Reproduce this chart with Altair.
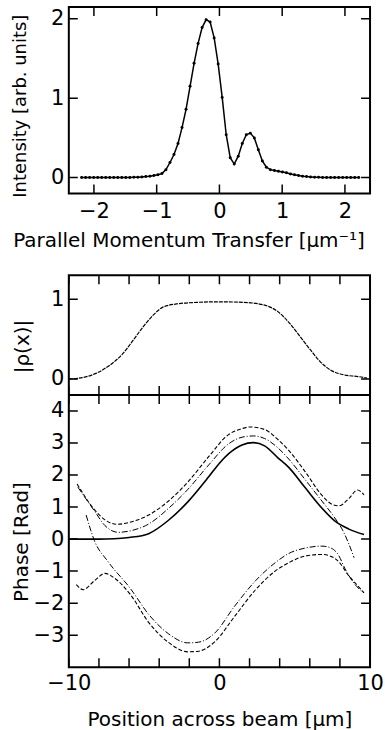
import altair as alt
import pandas as pd

# ---------------- top panel: intensity vs parallel momentum transfer ----------------
q_vals = [-2.196, -2.132, -2.068, -2.004, -1.940, -1.876, -1.812, -1.748, -1.684, -1.620,
          -1.556, -1.492, -1.428, -1.364, -1.300, -1.236, -1.172, -1.108, -1.044, -0.980,
          -0.916, -0.852, -0.788, -0.724, -0.660, -0.596, -0.532, -0.468, -0.404, -0.340,
          -0.276, -0.212, -0.148, -0.084, -0.020, 0.044, 0.108, 0.172, 0.236, 0.300,
          0.364, 0.428, 0.492, 0.556, 0.620, 0.684, 0.748, 0.812, 0.876, 0.940,
          1.004, 1.068, 1.132, 1.196, 1.260, 1.324, 1.388, 1.452, 1.516, 1.580,
          1.644, 1.708, 1.772, 1.836, 1.900, 1.964, 2.028, 2.092, 2.156, 2.220]
intensity = [0, 0, 0, 0, 0, 0, 0, 0, 0, 0,
             0, 0.001, 0.002, 0.003, 0.005, 0.008, 0.012, 0.018, 0.025, 0.035,
             0.05, 0.10, 0.19, 0.29, 0.43, 0.63, 0.86, 1.15, 1.44, 1.69,
             1.89, 1.99, 1.96, 1.76, 1.43, 1.01, 0.54, 0.25, 0.17, 0.27,
             0.43, 0.54, 0.56, 0.50, 0.35, 0.21, 0.13, 0.10, 0.09, 0.08,
             0.07, 0.06, 0.045, 0.035, 0.025, 0.018, 0.012, 0.008, 0.005, 0.003,
             0.002, 0.001, 0, 0, 0, 0, 0, 0, 0, 0]

# ---------------- middle panel: |rho(x)| ----------------
x_rho = [-10, -9.1, -8.2, -7.3, -6.4, -5.75, -5.08, -4.4, -3.75, -2.85, -1.5, 0,
         1.6, 2.9, 3.8, 4.7, 5.4, 6.06, 6.7, 7.4, 8.3, 9.2, 9.8]
rho = [0.0, 0.017, 0.07, 0.17, 0.32, 0.48, 0.65, 0.80, 0.90, 0.94, 0.96, 0.967,
       0.96, 0.93, 0.855, 0.69, 0.52, 0.36, 0.215, 0.11, 0.05, 0.03, 0.01]

# ---------------- bottom panel: phase curves ----------------
x_true = [-10, -9, -8, -7, -6, -4.7, -3.4, -2.1, -0.7, 0.0, 0.6, 1.5, 2.25, 3.0,
          3.9, 4.6, 5.7, 6.8, 7.7, 8.6, 9.6]
phase_true = [0, 0, 0, 0.01, 0.05, 0.17, 0.58, 1.16, 1.95, 2.37, 2.66, 2.94, 3.01, 2.91,
              2.53, 2.24, 1.6, 0.97, 0.55, 0.31, 0.14]

x_up1 = [-9.4, -8.3, -7.6, -6.7, -6.0, -4.7, -3.4, -2.1, -0.7, 0.6, 1.5, 2.25, 3.0,
         3.9, 4.6, 5.7, 6.8, 7.6, 8.2, 8.6, 8.94]
phase_up1 = [1.62, 0.88, 0.42, 0.21, 0.25, 0.47, 0.95, 1.55, 2.32, 2.97, 3.18, 3.22, 3.14,
             2.84, 2.5, 1.85, 1.19, 0.7, 0.26, -0.16, -0.58]

x_up2 = [-9.45, -8.3, -7.6, -6.8, -6.0, -4.7, -3.4, -2.1, -0.7, 0.6, 1.5, 2.05, 3.0,
         3.9, 4.6, 5.7, 6.8, 7.5, 7.95, 8.6, 9.16, 9.6]
phase_up2 = [1.72, 0.92, 0.6, 0.46, 0.52, 0.75, 1.18, 1.78, 2.58, 3.26, 3.45, 3.5, 3.42,
             3.1, 2.77, 2.1, 1.37, 1.08, 1.04, 1.27, 1.53, 1.38]

x_lo1 = [-8.85, -8.3, -7.4, -5.9, -4.7, -3.4, -2.1, -1.4, -0.3, 1.0, 2.4, 3.7, 4.6,
         5.7, 6.8, 7.3, 7.85, 8.4, 8.95, 9.6]
phase_lo1 = [0.75, -0.05, -0.7, -1.55, -2.35, -2.95, -3.24, -3.22, -2.93, -2.1, -1.3, -0.74,
             -0.45, -0.28, -0.22, -0.26, -0.46, -0.98, -1.39, -1.68]

x_lo2 = [-9.5, -9.05, -8.3, -7.6, -6.96, -5.9, -4.7, -3.4, -2.1, -1.4, -0.3, 1.0, 2.4,
         3.7, 4.6, 5.7, 6.8, 7.3, 7.95, 8.5, 9.05, 9.6]
phase_lo2 = [-1.42, -1.58, -1.3, -1.07, -1.22, -1.74, -2.6, -3.22, -3.52, -3.5, -3.2, -2.42,
             -1.58, -1.0, -0.74, -0.53, -0.48, -0.52, -0.72, -1.09, -1.39, -1.68]

# ---------------- tick positions ----------------
top_x_ticks = [-2, -1, 0, 1, 2]
top_y_ticks = [0, 1, 2]
pos_ticks = [-10, -8, -6, -4, -2, 0, 2, 4, 6, 8, 10]
pos_labels = [-10, 0, 10]
rho_ticks = [0, 1]
phase_ticks = [-3, -2, -1, 0, 1, 2, 3, 4]

W = 302
TOP_H = 187
MID_H = 120
BOT_H = 273
TICK = 18
FONT = "DejaVu Sans"

# ================= top chart =================
xs_top = alt.Scale(domain=[-2.4, 2.4], nice=False, zero=False)
ys_top = alt.Scale(domain=[-0.2, 2.15], nice=False, zero=False)
ax_top_x = alt.Axis(values=top_x_ticks, ticks=False, tickSize=0, domain=False, grid=False,
                    labelPadding=7, labelFlush=False, title="Parallel Momentum Transfer [μm⁻¹]",
                    titleX=120, titleY=37, titleBaseline="top", titleAlign="center")
ax_top_y = alt.Axis(values=top_y_ticks, ticks=False, tickSize=0, domain=False, grid=False,
                    labelPadding=5, title="Intensity [arb. units]", titleFontSize=18,
                    titleAngle=270, titleX=-43, titleY=99, titleBaseline="alphabetic",
                    titleAlign="center")

df_top = pd.DataFrame({"q": q_vals, "I": intensity})
top_line = alt.Chart(df_top).mark_line(color="black", strokeWidth=1.5).encode(
    x=alt.X("q:Q", scale=xs_top, axis=ax_top_x),
    y=alt.Y("I:Q", scale=ys_top, axis=ax_top_y),
)
top_pts = alt.Chart(df_top).mark_circle(color="black", size=9, opacity=1).encode(
    x=alt.X("q:Q", scale=xs_top, axis=ax_top_x),
    y=alt.Y("I:Q", scale=ys_top, axis=ax_top_y),
)
df_tx = pd.DataFrame({"t": top_x_ticks})
df_ty = pd.DataFrame({"t": top_y_ticks})
top_ticks = []
for yd in (-0.2, 2.15):
    top_ticks.append(alt.Chart(df_tx).mark_tick(orient="vertical", size=TICK, thickness=1.5,
                                                 color="black", clip=True, opacity=1).encode(
        x=alt.X("t:Q", scale=xs_top, axis=ax_top_x),
        y=alt.YDatum(yd, type="quantitative", scale=ys_top, axis=ax_top_y),
    ))
for xd in (-2.4, 2.4):
    top_ticks.append(alt.Chart(df_ty).mark_tick(orient="horizontal", size=TICK, thickness=1.5,
                                                 color="black", clip=True, opacity=1).encode(
        y=alt.Y("t:Q", scale=ys_top, axis=ax_top_y),
        x=alt.XDatum(xd, type="quantitative", scale=xs_top, axis=ax_top_x),
    ))
top = alt.layer(top_line, top_pts, *top_ticks).properties(width=W, height=TOP_H)

# ================= middle + bottom chart =================
xs_pos = alt.Scale(domain=[-10, 10], nice=False, zero=False)
ys_mid = alt.Scale(domain=[-0.2, 1.3], range=[MID_H, 0], nice=False, zero=False)
ys_bot = alt.Scale(domain=[-4, 4.5], range=[MID_H + BOT_H, MID_H], nice=False, zero=False)
ax_pos = alt.Axis(values=pos_labels, ticks=False, tickSize=0, domain=False, grid=False,
                  labelPadding=5, labelFlush=False, title="Position across beam [μm]",
                  titleY=42, titleBaseline="top")
ax_mid_y = alt.Axis(values=rho_ticks, ticks=False, tickSize=0, domain=False, grid=False,
                    orient="left", labelPadding=5, title="|ρ(x)|", titleAngle=270,
                    titleX=-40, titleY=71, titleBaseline="alphabetic", titleAlign="center")
ax_bot_y = alt.Axis(values=phase_ticks, ticks=False, tickSize=0, domain=False, grid=False,
                    orient="left", labelPadding=5, title="Phase [Rad]", titleAngle=270,
                    titleX=-41, titleY=267, titleBaseline="alphabetic", titleAlign="center")

df_rho = pd.DataFrame({"x": x_rho, "r": rho})
mid_line = alt.Chart(df_rho).mark_line(color="black", strokeWidth=1.2, strokeDash=[4, 1],
                                       interpolate="monotone").encode(
    x=alt.X("x:Q", scale=xs_pos, axis=ax_pos),
    y=alt.Y("r:Q", scale=ys_mid, axis=ax_mid_y),
)
df_px = pd.DataFrame({"t": pos_ticks})
df_my = pd.DataFrame({"t": rho_ticks})
df_by = pd.DataFrame({"t": phase_ticks})
mid_layers = [mid_line]
for yd in (-0.2, 1.3):
    mid_layers.append(alt.Chart(df_px).mark_tick(orient="vertical", size=TICK, thickness=1.5,
                                                  color="black", clip=True, opacity=1).encode(
        x=alt.X("t:Q", scale=xs_pos, axis=ax_pos),
        y=alt.YDatum(yd, type="quantitative", scale=ys_mid, axis=ax_mid_y),
    ))
for xd in (-10, 10):
    mid_layers.append(alt.Chart(df_my).mark_tick(orient="horizontal", size=TICK, thickness=1.5,
                                                  color="black", clip=True, opacity=1).encode(
        y=alt.Y("t:Q", scale=ys_mid, axis=ax_mid_y),
        x=alt.XDatum(xd, type="quantitative", scale=xs_pos, axis=ax_pos),
    ))
mid_layers.append(alt.Chart(df_my).mark_rule(color="black", strokeWidth=2).encode(
    y=alt.YDatum(-0.2, type="quantitative", scale=ys_mid, axis=ax_mid_y),
    x=alt.XDatum(-10, type="quantitative", scale=xs_pos, axis=ax_pos),
    x2=alt.X2Datum(10),
))
mid_group = alt.layer(*mid_layers)

rows = []
for name, xs, ys in [("true", x_true, phase_true), ("up1", x_up1, phase_up1),
                     ("up2", x_up2, phase_up2), ("lo1", x_lo1, phase_lo1),
                     ("lo2", x_lo2, phase_lo2)]:
    for xv, yv in zip(xs, ys):
        rows.append({"curve": name, "x": xv, "p": yv})
df_ph = pd.DataFrame(rows)


def phase_line(names, **kw):
    return alt.Chart(df_ph).transform_filter(
        alt.FieldOneOfPredicate(field="curve", oneOf=names)
    ).mark_line(color="black", interpolate="monotone", **kw).encode(
        x=alt.X("x:Q", scale=xs_pos, axis=ax_pos),
        y=alt.Y("p:Q", scale=ys_bot, axis=ax_bot_y),
        detail="curve:N",
    )


bot_layers = [
    phase_line(["true"], strokeWidth=1.6),
    phase_line(["up1", "lo1"], strokeWidth=1.0, strokeDash=[6, 2, 1, 2]),
    phase_line(["up2", "lo2"], strokeWidth=1.1, strokeDash=[4, 2]),
]
bot_layers.append(alt.Chart(df_px).mark_tick(orient="vertical", size=TICK, thickness=1.5,
                                              color="black", clip=True, opacity=1).encode(
    x=alt.X("t:Q", scale=xs_pos, axis=ax_pos),
    y=alt.YDatum(-4, type="quantitative", scale=ys_bot, axis=ax_bot_y),
))
for xd in (-10, 10):
    bot_layers.append(alt.Chart(df_by).mark_tick(orient="horizontal", size=TICK, thickness=1.5,
                                                  color="black", clip=True, opacity=1).encode(
        y=alt.Y("t:Q", scale=ys_bot, axis=ax_bot_y),
        x=alt.XDatum(xd, type="quantitative", scale=xs_pos, axis=ax_pos),
    ))
bot_group = alt.layer(*bot_layers)

midbot = alt.layer(mid_group, bot_group).resolve_scale(y="independent").properties(
    width=W, height=MID_H + BOT_H)

chart = alt.vconcat(top, midbot, spacing=23).properties(
    padding={"left": 10, "top": 5, "right": 0, "bottom": 0},
    background="white",
).configure_view(stroke="black", strokeWidth=2).configure_axis(
    labelFont=FONT, titleFont=FONT, labelFontSize=21, titleFontSize=20,
    titleFontWeight="normal", labelColor="black", titleColor="black",
)

chart.save("out.html", embed_options={"renderer": "svg", "actions": False})
